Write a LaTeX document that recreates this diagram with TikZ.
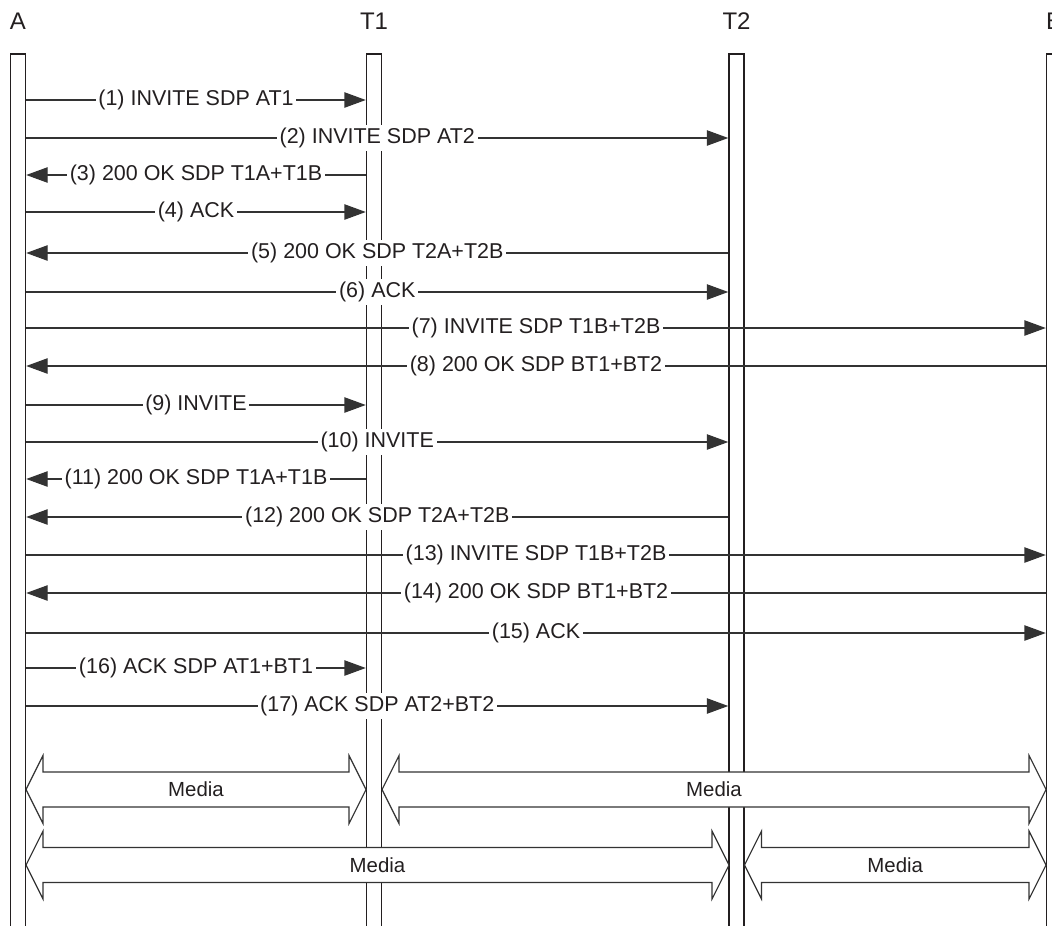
\documentclass[tikz,border=0pt]{standalone}
\usepackage{fontspec}
\setmainfont{Liberation Sans}
\usetikzlibrary{arrows.meta, positioning, calc}
\definecolor{sink}{HTML}{231F20}
\definecolor{sline}{HTML}{333333}
\tikzset{
  lifeline/.style={
    draw=sink, fill=white, line width=1.1pt, inner sep=0pt,
    minimum width=11.25pt, minimum height=664.5pt
  },
  party/.style={font=\fontsize{18pt}{20pt}\selectfont, text=sink, inner sep=0pt},
  msg/.style={draw=sline, line width=0.85pt, -{Triangle[length=16pt,width=11.5pt]}},
  lbl/.style={fill=white, text=sink, inner sep=2pt, font=\fontsize{16.1pt}{19pt}\selectfont},
  medialbl/.style={text=sink, inner sep=0pt, font=\fontsize{15.3pt}{18pt}\selectfont},
  pipe/.style={draw=sline, fill=white, line width=0.85pt, line join=miter}
}
% fat two-way arrow: left tip, right tip, height
\newcommand{\mediapipe}[3]{%
  \draw[pipe] (#1,#3) -- ++(17,-34) -- ++(0,16.5) -- ({#2-17},{#3-17.5})
    -- ++(0,-16.5) -- (#2,#3) -- ++(-17,34) -- ++(0,-16.5)
    -- ({#1+17},{#3+17.5}) -- ++(0,16.5) -- cycle;
  \node[medialbl] at ({(#1+#2)/2},#3) {Media};}

\begin{document}
\begin{tikzpicture}[x=0.75pt, y=-0.75pt]
  \useasboundingbox (0,0) rectangle (1052,925);
  \clip (0,0) rectangle (1052,925);

  % lifelines
  \node[lifeline] (lA)  at (18,497)   {};
  \node[lifeline] (lT1) at (374,497)  {};
  \node[lifeline] (lT2) at (736.5,497) {};
  \node[lifeline] (lB)  at (1054,497) {};

  \coordinate (top) at (0,21);
  \node[party] (hA)  at (lA.north |- top)  {A};
  \node[party] (hT1) at (lT1.north |- top) {T1};
  \node[party] (hT2) at (lT2.north |- top) {T2};
  \node[party] (hB)  at (lB.north |- top)  {B};

  % message rows
  \foreach \i/\y in {1/100, 2/138, 3/175, 4/212, 5/253, 6/292, 7/328, 8/366,
      9/405, 10/442, 11/479, 12/517, 13/555, 14/593, 15/633, 16/668, 17/706}
    \coordinate (r\i) at (0,\y);

  \draw[msg] (lA.east |- r1) -- node[lbl] {(1) INVITE SDP AT1} (lT1.west |- r1);
  \draw[msg] (lA.east |- r2) -- node[lbl] {(2) INVITE SDP AT2} (lT2.west |- r2);
  \draw[msg] (lT1.west |- r3) -- node[lbl] {(3) 200 OK SDP T1A+T1B} (lA.east |- r3);
  \draw[msg] (lA.east |- r4) -- node[lbl] {(4) ACK} (lT1.west |- r4);
  \draw[msg] (lT2.west |- r5) -- node[lbl] {(5) 200 OK SDP T2A+T2B} (lA.east |- r5);
  \draw[msg] (lA.east |- r6) -- node[lbl] {(6) ACK} (lT2.west |- r6);
  \draw[msg] (lA.east |- r7) -- node[lbl] {(7) INVITE SDP T1B+T2B} (lB.west |- r7);
  \draw[msg] (lB.west |- r8) -- node[lbl] {(8) 200 OK SDP BT1+BT2} (lA.east |- r8);
  \draw[msg] (lA.east |- r9) -- node[lbl] {(9) INVITE} (lT1.west |- r9);
  \draw[msg] (lA.east |- r10) -- node[lbl] {(10) INVITE} (lT2.west |- r10);
  \draw[msg] (lT1.west |- r11) -- node[lbl] {(11) 200 OK SDP T1A+T1B} (lA.east |- r11);
  \draw[msg] (lT2.west |- r12) -- node[lbl] {(12) 200 OK SDP T2A+T2B} (lA.east |- r12);
  \draw[msg] (lA.east |- r13) -- node[lbl] {(13) INVITE SDP T1B+T2B} (lB.west |- r13);
  \draw[msg] (lB.west |- r14) -- node[lbl] {(14) 200 OK SDP BT1+BT2} (lA.east |- r14);
  \draw[msg] (lA.east |- r15) -- node[lbl] {(15) ACK} (lB.west |- r15);
  \draw[msg] (lA.east |- r16) -- node[lbl] {(16) ACK SDP AT1+BT1} (lT1.west |- r16);
  \draw[msg] (lA.east |- r17) -- node[lbl] {(17) ACK SDP AT2+BT2} (lT2.west |- r17);

  % media paths
  \mediapipe{26}{366}{789.5}
  \mediapipe{382}{1046}{789.5}
  \mediapipe{26}{729}{865}
  \mediapipe{744.5}{1046}{865}
\end{tikzpicture}
\end{document}
